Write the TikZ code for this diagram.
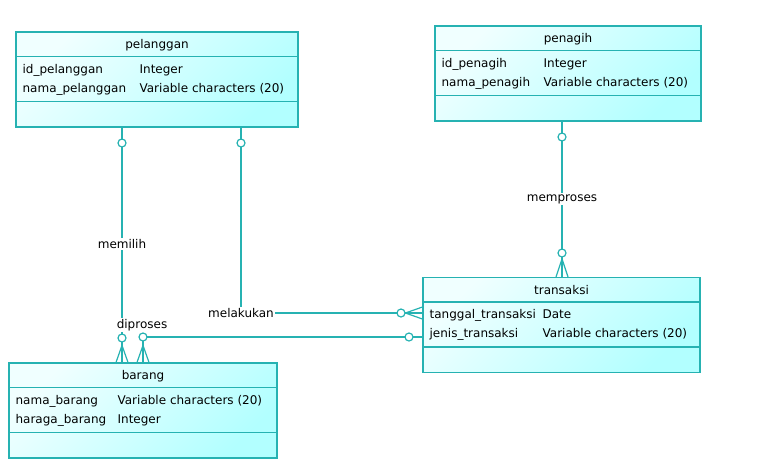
\documentclass[tikz,border=0pt]{standalone}
\usepackage{fontspec}
\setmainfont{DejaVu Sans}
\usetikzlibrary{calc,backgrounds}

\definecolor{erline}{RGB}{38,178,178}
\definecolor{erlight}{RGB}{240,255,255}
\definecolor{erdark}{RGB}{178,255,255}

\tikzset{
	entity/.style = {draw=erline, line width=1.2pt, top color=erlight, bottom color=erdark, shading angle=45, minimum height=95pt, inner sep=0pt},
	erl/.style = {draw=erline, line width=1.2pt},
	rel/.style = {draw=erline, line width=1.2pt},
	opt/.style = {circle, draw=erline, fill=white, line width=1.2pt, minimum size=8pt, inner sep=0pt},
	lbl/.style = {fill=white, inner sep=1pt},
	title/.style = {anchor=base, inner sep=0pt},
	attr/.style = {anchor=base west, inner sep=0pt}
}

\begin{document}
\begin{tikzpicture}[x=1pt, y=-1pt, font=\fontsize{12}{14}\selectfont]
	
	\useasboundingbox (0,0) rectangle (759,472);
	
	%% ENTITIES
	
	% pelanggan
	\node [entity, minimum width=282pt] (pelanggan) at (157,79.5) {};
	\node [title] (pelanggan-t) at ($(pelanggan.north)+(0,17.5)$) {pelanggan};
	\draw [erl] ($(pelanggan.north west)+(0,25)$) -- ($(pelanggan.north east)+(0,25)$);
	\draw [erl] ($(pelanggan.north west)+(0,70)$) -- ($(pelanggan.north east)+(0,70)$);
	\node [attr] (pelanggan-a1) at ($(pelanggan.north west)+(7,42)$)   {id\_pelanggan};
	\node [attr] (pelanggan-d1) at ($(pelanggan.north west)+(124,42)$) {Integer};
	\node [attr] (pelanggan-a2) at ($(pelanggan.north west)+(7,61)$)   {nama\_pelanggan};
	\node [attr] (pelanggan-d2) at ($(pelanggan.north west)+(124,61)$) {Variable characters (20)};
	
	% penagih
	\node [entity, minimum width=266pt] (penagih) at (568,73.5) {};
	\node [title] (penagih-t) at ($(penagih.north)+(0,17.5)$) {penagih};
	\draw [erl] ($(penagih.north west)+(0,25)$) -- ($(penagih.north east)+(0,25)$);
	\draw [erl] ($(penagih.north west)+(0,70)$) -- ($(penagih.north east)+(0,70)$);
	\node [attr] (penagih-a1) at ($(penagih.north west)+(7,42)$)   {id\_penagih};
	\node [attr] (penagih-d1) at ($(penagih.north west)+(109,42)$) {Integer};
	\node [attr] (penagih-a2) at ($(penagih.north west)+(7,61)$)   {nama\_penagih};
	\node [attr] (penagih-d2) at ($(penagih.north west)+(109,61)$) {Variable characters (20)};
	
	% transaksi
	\node [entity, minimum width=277pt] (transaksi) at (561.5,325) {};
	\node [title] (transaksi-t) at ($(transaksi.north)+(0,17.5)$) {transaksi};
	\draw [erl] ($(transaksi.north west)+(0,25)$) -- ($(transaksi.north east)+(0,25)$);
	\draw [erl] ($(transaksi.north west)+(0,70)$) -- ($(transaksi.north east)+(0,70)$);
	\node [attr] (transaksi-a1) at ($(transaksi.north west)+(7,42)$)   {tanggal\_transaksi};
	\node [attr] (transaksi-d1) at ($(transaksi.north west)+(120,42)$) {Date};
	\node [attr] (transaksi-a2) at ($(transaksi.north west)+(7,61)$)   {jenis\_transaksi};
	\node [attr] (transaksi-d2) at ($(transaksi.north west)+(120,61)$) {Variable characters (20)};
	
	% barang
	\node [entity, minimum width=268pt] (barang) at (143,410.5) {};
	\node [title] (barang-t) at ($(barang.north)+(0,17.5)$) {barang};
	\draw [erl] ($(barang.north west)+(0,25)$) -- ($(barang.north east)+(0,25)$);
	\draw [erl] ($(barang.north west)+(0,70)$) -- ($(barang.north east)+(0,70)$);
	\node [attr] (barang-a1) at ($(barang.north west)+(7,42)$)   {nama\_barang};
	\node [attr] (barang-d1) at ($(barang.north west)+(109,42)$) {Variable characters (20)};
	\node [attr] (barang-a2) at ($(barang.north west)+(7,61)$)   {haraga\_barang};
	\node [attr] (barang-d2) at ($(barang.north west)+(109,61)$) {Integer};
	
	%% RELATIONS
	
	% Optional circles
	\node [opt] (o-pel1) at (122,143) {};
	\node [opt] (o-pel2) at (241,143) {};
	\node [opt] (o-pen)  at (562,137) {};
	\node [opt] (o-tr1)  at (562,253) {};
	\node [opt] (o-tr2)  at (401,313) {};
	\node [opt] (o-tr3)  at (409,337) {};
	\node [opt] (o-bar1) at (122,338) {};
	\node [opt] (o-bar2) at (143,337) {};
	
	% Labels
	\node [lbl] (memilih)   at (122,244) {memilih};
	\node [lbl] (melakukan) at (241,313) {melakukan};
	\node [lbl] (memproses) at (562,199) {memproses};
	\node [lbl] (diproses)  at (142,325) {diproses};
	
	\begin{pgfonlayer}{background}
		% Lines
		\draw [rel] (pelanggan.south -| o-pel1) -- (barang.north -| o-pel1);
		\draw [rel] (pelanggan.south -| o-pel2) |- (transaksi.west |- o-tr2);
		\draw [rel] (penagih.south -| o-pen) -- (transaksi.north -| o-pen);
		\draw [rel] (barang.north -| o-bar2) |- (transaksi.west |- o-tr3);
		
		% Crow's feet
		\foreach \d in {-6,0,6}
		{
			\draw [rel] ($(barang.north -| o-bar1)+(0,-17)$) -- ($(barang.north -| o-bar1)+(\d,0)$);
			\draw [rel] ($(barang.north -| o-bar2)+(0,-17)$) -- ($(barang.north -| o-bar2)+(\d,0)$);
			\draw [rel] ($(transaksi.north -| o-tr1)+(0,-18)$) -- ($(transaksi.north -| o-tr1)+(\d,0)$);
			\draw [rel] ($(transaksi.west |- o-tr2)+(-17,0)$) -- ($(transaksi.west |- o-tr2)+(0,\d)$);
		}
	\end{pgfonlayer}
	
\end{tikzpicture}
\end{document}
